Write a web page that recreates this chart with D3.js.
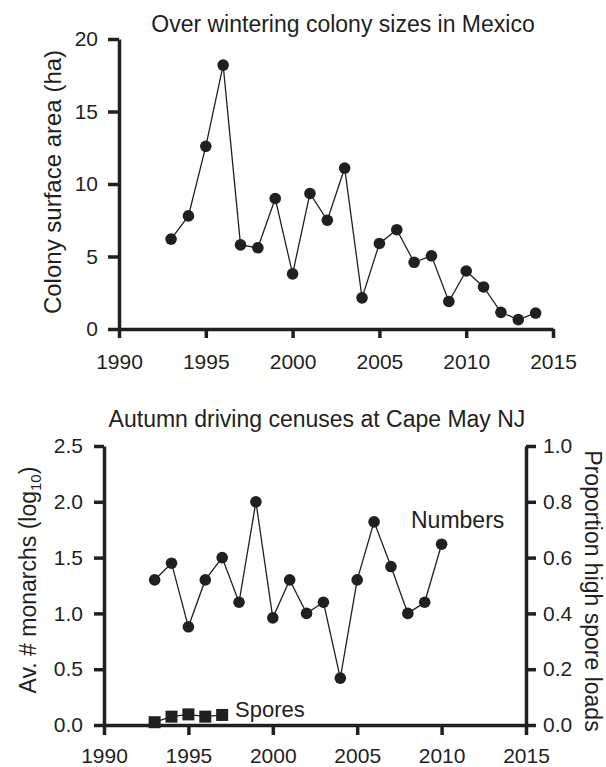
<!DOCTYPE html>
<html>
<head>
<meta charset="utf-8">
<script src="https://cdn.jsdelivr.net/npm/d3@7"></script>
<style>
  body { margin: 0; background: #fff; }
  svg { display: block; font-family: "Liberation Sans", Arial, sans-serif; }
  .axis path, .axis line { stroke: #231f20; stroke-width: 3.5; }
  .axis text { fill: #231f20; font-size: 21px; font-family: "Liberation Sans", Arial, sans-serif; }
</style>
</head>
<body>
<div id="chart"></div>
<script>
// top panel: overwintering colony area (ha)
var colonyYears = [1993, 1994, 1995, 1996, 1997, 1998, 1999, 2000, 2001, 2002, 2003,
                   2004, 2005, 2006, 2007, 2008, 2009, 2010, 2011, 2012, 2013, 2014];
var colonyArea = [6.2, 7.8, 12.6, 18.2, 5.8, 5.6, 9.0, 3.8, 9.35, 7.5, 11.1,
                  2.15, 5.9, 6.85, 4.6, 5.05, 1.9, 4.0, 2.9, 1.15, 0.65, 1.1];

// bottom panel: Cape May counts (log10) and spore proportion
var capeYears = [1993, 1994, 1995, 1996, 1997, 1998, 1999, 2000, 2001,
                 2002, 2003, 2004, 2005, 2006, 2007, 2008, 2009, 2010];
var capeNumbers = [1.30, 1.45, 0.88, 1.30, 1.50, 1.10, 2.00, 0.96, 1.30,
                   1.00, 1.10, 0.42, 1.30, 1.82, 1.42, 1.00, 1.10, 1.62];
var sporeYears = [1993, 1994, 1995, 1996, 1997];
var sporeProp = [0.01, 0.03, 0.038, 0.03, 0.036];

var yearTicks = [1990, 1995, 2000, 2005, 2010, 2015];
var colonyTicks = [0, 5, 10, 15, 20];
var numberTicks = [0, 0.5, 1.0, 1.5, 2.0, 2.5];
var propTicks = [0, 0.2, 0.4, 0.6, 0.8, 1.0];

var ink = "#231f20";

var svg = d3.select("#chart").append("svg")
    .attr("width", 606)
    .attr("height", 767);

// ---------- top panel ----------
var x1 = d3.scaleLinear().domain([1990, 2015]).range([119, 553]);
var y1 = d3.scaleLinear().domain([0, 20]).range([329, 39]);

svg.append("g")
    .attr("class", "axis")
    .attr("transform", "translate(0,329)")
    .call(d3.axisBottom(x1).tickValues(yearTicks).tickFormat(d3.format("d"))
        .tickSizeInner(9).tickSizeOuter(0))
    .selectAll("text").attr("y", 40).attr("dy", null);

svg.append("g")
    .attr("class", "axis")
    .attr("transform", "translate(119,0)")
    .call(d3.axisLeft(y1).tickValues(colonyTicks).tickFormat(d3.format("d"))
        .tickSizeInner(11).tickSizeOuter(0).tickPadding(10));

var line1 = d3.line()
    .x(function(d, i) { return x1(colonyYears[i]); })
    .y(function(d) { return y1(d); });

svg.append("path")
    .datum(colonyArea)
    .attr("d", line1)
    .attr("fill", "none")
    .attr("stroke", ink)
    .attr("stroke-width", 1.3);

svg.selectAll(".dot1")
    .data(colonyArea)
    .enter().append("circle")
    .attr("class", "dot1")
    .attr("cx", function(d, i) { return x1(colonyYears[i]); })
    .attr("cy", function(d) { return y1(d); })
    .attr("r", 5.8)
    .attr("fill", ink);

svg.append("text")
    .attr("x", 343)
    .attr("y", 32)
    .attr("text-anchor", "middle")
    .attr("font-size", "23px")
    .attr("fill", ink)
    .text("Over wintering colony sizes in Mexico");

svg.append("text")
    .attr("transform", "translate(61,182) rotate(-90)")
    .attr("text-anchor", "middle")
    .attr("font-size", "24px")
    .attr("fill", ink)
    .text("Colony surface area (ha)");

// ---------- bottom panel ----------
var x2 = d3.scaleLinear().domain([1990, 2015]).range([104, 526]);
var y2 = d3.scaleLinear().domain([0, 2.5]).range([725, 446]);
var y2r = d3.scaleLinear().domain([0, 1]).range([725, 446]);

svg.append("g")
    .attr("class", "axis")
    .attr("transform", "translate(0,725)")
    .call(d3.axisBottom(x2).tickValues(yearTicks).tickFormat(d3.format("d"))
        .tickSizeInner(10).tickSizeOuter(0))
    .selectAll("text").attr("y", 38).attr("dy", null);

svg.append("g")
    .attr("class", "axis")
    .attr("transform", "translate(104,0)")
    .call(d3.axisLeft(y2).tickValues(numberTicks).tickFormat(d3.format(".1f"))
        .tickSizeInner(10).tickSizeOuter(0).tickPadding(11));

svg.append("g")
    .attr("class", "axis")
    .attr("transform", "translate(526,0)")
    .call(d3.axisRight(y2r).tickValues(propTicks).tickFormat(d3.format(".1f"))
        .tickSizeInner(10).tickSizeOuter(0).tickPadding(7));

var line2 = d3.line()
    .x(function(d, i) { return x2(capeYears[i]); })
    .y(function(d) { return y2(d); });

svg.append("path")
    .datum(capeNumbers)
    .attr("d", line2)
    .attr("fill", "none")
    .attr("stroke", ink)
    .attr("stroke-width", 1.3);

svg.selectAll(".dot2")
    .data(capeNumbers)
    .enter().append("circle")
    .attr("class", "dot2")
    .attr("cx", function(d, i) { return x2(capeYears[i]); })
    .attr("cy", function(d) { return y2(d); })
    .attr("r", 5.8)
    .attr("fill", ink);

var line3 = d3.line()
    .x(function(d, i) { return x2(sporeYears[i]); })
    .y(function(d) { return y2r(d); });

svg.append("path")
    .datum(sporeProp)
    .attr("d", line3)
    .attr("fill", "none")
    .attr("stroke", ink)
    .attr("stroke-width", 1.3);

var sq = 12;
svg.selectAll(".sq")
    .data(sporeProp)
    .enter().append("rect")
    .attr("class", "sq")
    .attr("x", function(d, i) { return x2(sporeYears[i]) - sq / 2; })
    .attr("y", function(d) { return y2r(d) - sq / 2; })
    .attr("width", sq)
    .attr("height", sq)
    .attr("fill", ink);

svg.append("text")
    .attr("x", 317)
    .attr("y", 427)
    .attr("text-anchor", "middle")
    .attr("font-size", "23px")
    .attr("fill", ink)
    .text("Autumn driving cenuses at Cape May NJ");

var leftLab = svg.append("text")
    .attr("transform", "translate(36,580) rotate(-90)")
    .attr("text-anchor", "middle")
    .attr("font-size", "23px")
    .attr("fill", ink);
leftLab.append("tspan").text("Av. # monarchs (log");
leftLab.append("tspan").attr("font-size", "15px").attr("dy", 5).text("10");
leftLab.append("tspan").attr("dy", -5).text(")");

svg.append("text")
    .attr("transform", "translate(585,591) rotate(90)")
    .attr("text-anchor", "middle")
    .attr("font-size", "23px")
    .attr("fill", ink)
    .text("Proportion high spore loads");

svg.append("text")
    .attr("x", 411)
    .attr("y", 528)
    .attr("font-size", "23px")
    .attr("fill", ink)
    .text("Numbers");

svg.append("text")
    .attr("x", 235)
    .attr("y", 717)
    .attr("font-size", "22px")
    .attr("fill", ink)
    .text("Spores");
</script>
</body>
</html>
